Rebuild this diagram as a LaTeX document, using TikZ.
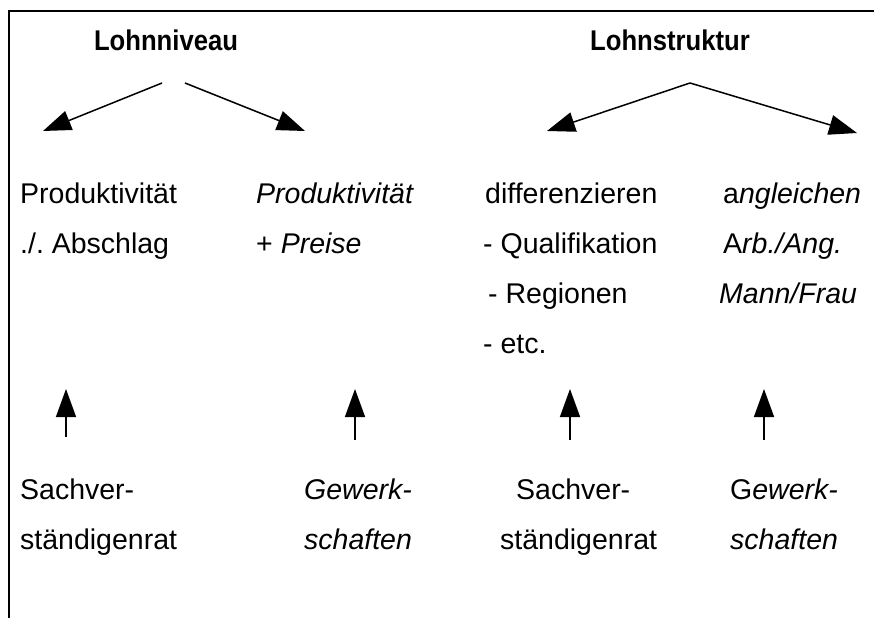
\documentclass[tikz,border=0pt]{standalone}
\usepackage{fontspec}
\setmainfont{Liberation Sans}
\newfontfamily\headfont[FakeStretch=0.9]{Liberation Sans}
\usetikzlibrary{arrows.meta}
\frenchspacing
\begin{document}
\begin{tikzpicture}[x=1pt,y=-1pt,
  txt/.style={anchor=base west,inner sep=0pt,font=\fontsize{28.5}{32}\selectfont},
  head/.style={anchor=base,inner sep=0pt,font=\headfont\fontsize{28.5}{32}\selectfont\bfseries},
  arr/.style={line width=1.5pt,-{Triangle[length=28pt,width=20pt]}},
  frame/.style={line width=2.5pt}]
\useasboundingbox (0,0) rectangle (874,618);
\draw[frame] (874,11) -- (9,11) -- (9,618);

% headings
\node[head] (hn) at (166,51) {Lohnniveau};
\node[head] (hs) at (670,51) {Lohnstruktur};

% diagonal arrows
\coordinate (a1s) at (162,83); \coordinate (a1e) at (43,131);
\coordinate (a2s) at (185,83); \coordinate (a2e) at (305,131);
\coordinate (a3s) at (690,83); \coordinate (a3e) at (547,131);
\coordinate (a4e) at (857,133);
\draw[arr] (a1s) -- (a1e);
\draw[arr] (a2s) -- (a2e);
\draw[arr] (a3s) -- (a3e);
\draw[arr] (a3s) -- (a4e);

% column 1
\node[txt] (c1a) at (20,203) {Produktivität};
\node[txt] (c1b) at (20,253) {./. Abschlag};
% column 2
\node[txt] (c2a) at (256,203) {\textit{Produktivität}};
\node[txt] (c2b) at (256,253) {+ \textit{Preise}};
% column 3
\node[txt] (c3a) at (485,203) {differenzieren};
\node[txt] (c3b) at (483,253) {- Qualifikation};
\node[txt] (c3c) at (488,303) {- Regionen};
\node[txt] (c3d) at (483,353) {- etc.};
% column 4
\node[txt] (c4a) at (723,203) {a\textit{ngleichen}};
\node[txt] (c4b) at (723,253) {A\textit{rb./Ang.}};
\node[txt] (c4c) at (719,303) {\textit{Mann/Frau}};

% vertical arrows
\coordinate (v1s) at (66,437);  \coordinate (v1e) at (66,389);
\coordinate (v2s) at (355,440); \coordinate (v2e) at (355,389);
\coordinate (v3s) at (570,440); \coordinate (v3e) at (570,389);
\coordinate (v4s) at (764,440); \coordinate (v4e) at (764,389);
\draw[arr] (v1s) -- (v1e);
\draw[arr] (v2s) -- (v2e);
\draw[arr] (v3s) -- (v3e);
\draw[arr] (v4s) -- (v4e);

% bottom labels
\node[txt] (b1a) at (20,499) {Sachver-};
\node[txt] (b1b) at (20,549) {ständigenrat};
\node[txt] (b2a) at (304,499) {\textit{Gewerk-}};
\node[txt] (b2b) at (304,549) {\textit{schaften}};
\node[txt] (b3a) at (516,499) {Sachver-};
\node[txt] (b3b) at (500,549) {ständigenrat};
\node[txt] (b4a) at (730,499) {G\textit{ewerk-}};
\node[txt] (b4b) at (730,549) {\textit{schaften}};
\end{tikzpicture}
\end{document}
